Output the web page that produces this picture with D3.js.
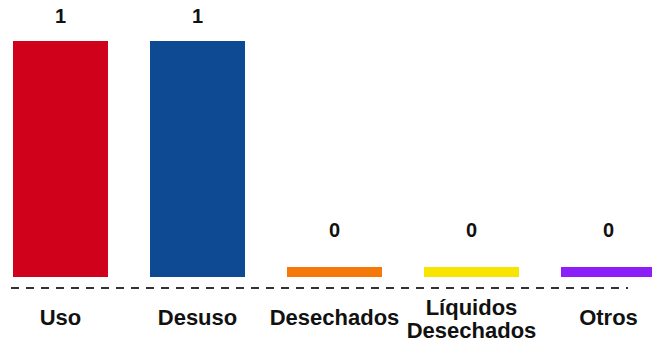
<!DOCTYPE html>
<html>
<head>
<meta charset="utf-8">
<script src="https://cdn.jsdelivr.net/npm/d3@7"></script>
<style>
  html, body { margin: 0; padding: 0; background: #ffffff; overflow: hidden; }
  svg { display: block; }
  text { font-family: "Liberation Sans", Arial, sans-serif; font-weight: bold; fill: #111; }
</style>
</head>
<body>
<svg id="chart" width="652" height="342"></svg>
<script>
const categories = ["Uso", "Desuso", "Desechados", "Líquidos\nDesechados", "Otros"];
const values = [1, 1, 0, 0, 0];
const colors = ["#d0021b", "#0e4a94", "#f5780b", "#f7e400", "#8c1ef7"];

const svg = d3.select("#chart");

const x = d3.scaleBand()
  .domain(categories)
  .range([13, 656])
  .paddingInner(0.3066)
  .paddingOuter(0);

const y = d3.scaleLinear().domain([0, 1]).range([277, 41]);
const minH = 10;

const data = categories.map((c, i) => ({ c, v: values[i], color: colors[i] }));

// bars
svg.append("g").selectAll("rect").data(data).join("rect")
  .attr("x", d => x(d.c))
  .attr("width", x.bandwidth())
  .attr("y", d => Math.min(y(d.v), y(0) - minH))
  .attr("height", d => Math.max(y(0) - y(d.v), minH))
  .attr("fill", d => d.color);

// value labels
svg.append("g").selectAll("text").data(data).join("text")
  .attr("x", d => x(d.c) + x.bandwidth() / 2)
  .attr("y", d => d.v > 0 ? y(d.v) - 18 : y(0) - minH - 30)
  .attr("text-anchor", "middle")
  .attr("font-size", 20)
  .text(d => d.v);

// dashed baseline
svg.append("line")
  .attr("x1", 11).attr("x2", 628)
  .attr("y1", y(0) + 11).attr("y2", y(0) + 11)
  .attr("stroke", "#333")
  .attr("stroke-width", 2)
  .attr("stroke-dasharray", "8,7");

// category labels
const lab = svg.append("g").selectAll("text").data(data).join("text")
  .attr("text-anchor", "middle")
  .attr("font-size", 22)
  .attr("transform", d => `translate(${x(d.c) + x.bandwidth() / 2},0)`);
lab.each(function(d) {
  const lines = d.c.split("\n");
  const t = d3.select(this);
  const base = lines.length > 1 ? 315 : 325;
  lines.forEach((l, i) => {
    t.append("tspan").attr("x", 0).attr("y", base + i * 23).text(l);
  });
});
</script>
</body>
</html>
